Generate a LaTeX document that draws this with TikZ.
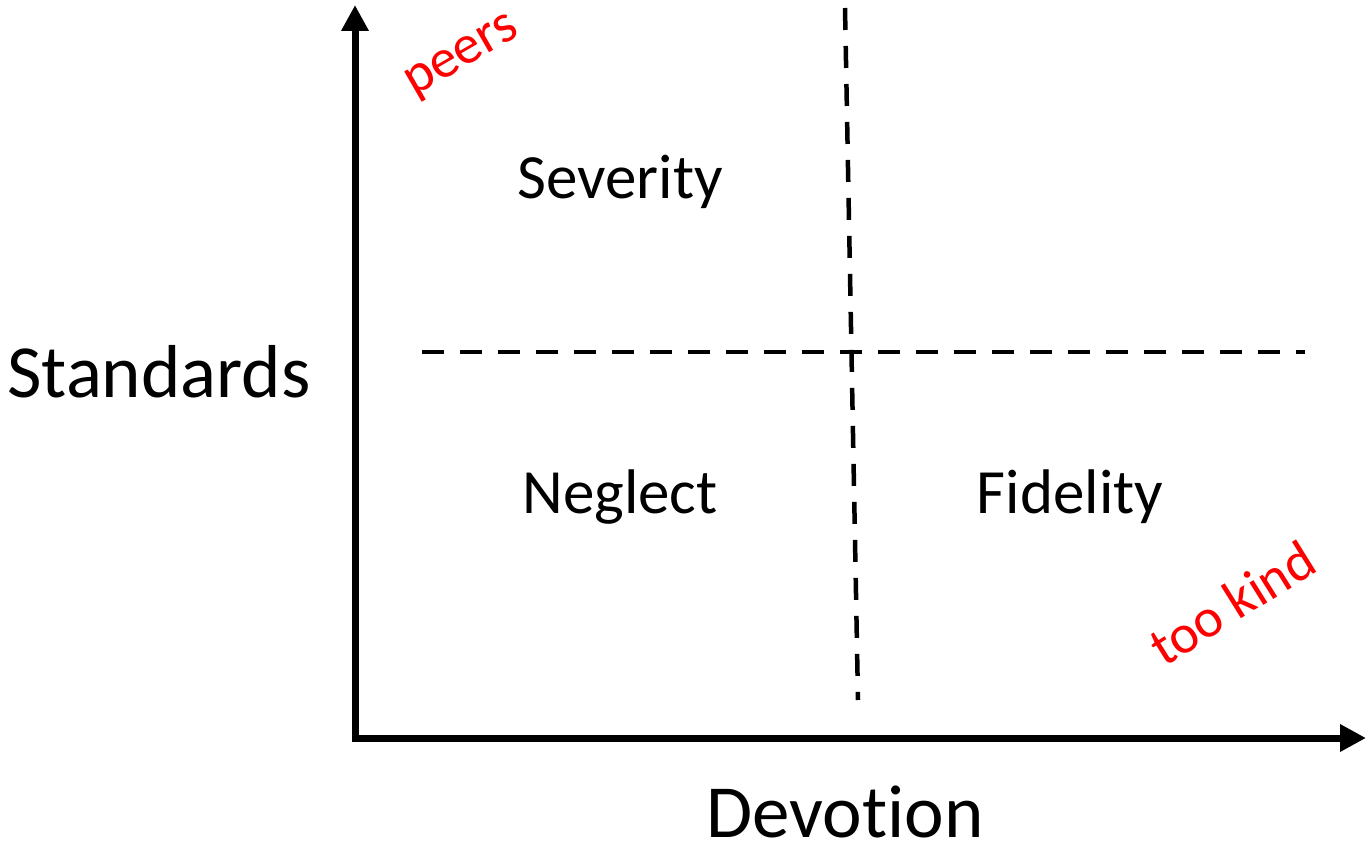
\documentclass[tikz,border=0pt]{standalone}
\usepackage{fontspec}
\setmainfont[Ligatures={NoCommon,NoRare,NoContextual}]{Carlito}
\usetikzlibrary{arrows.meta}
\begin{document}
\begin{tikzpicture}[x=1pt,y=-1pt,
  axis/.style={line width=7pt,-{Triangle[length=26pt,width=26pt]}},
  divider/.style={line width=4.5pt,dash pattern=on 22pt off 16pt},
  quad/.style={font=\fontsize{63}{70}\selectfont,inner sep=0pt},
  axlabel/.style={font=\fontsize{75}{80}\selectfont,inner sep=0pt},
  note/.style={text=red,font=\fontsize{55}{60}\selectfont,inner sep=0pt}]
\useasboundingbox (0,0) rectangle (1371,843);
\coordinate (o) at (355,738);
\coordinate (ytop) at (355,5);
\coordinate (xend) at (1366,738);
\coordinate (v1) at (845,8);
\coordinate (v2) at (858,700);
\coordinate (h1) at (422,352);
\coordinate (h2) at (1305,352);
\draw[divider] (v1) -- (v2);
\draw[divider] (h1) -- (h2);
\draw[axis] ([yshift=3.5pt]o) -- (ytop);
\draw[axis] ([xshift=-3.5pt]o) -- (xend);
\node[axlabel] (std) at (159,372) {Standards};
\node[axlabel] (dev) at (845,812) {Devotion};
\node[quad] (sev) at (620,182) {Severity};
\node[quad] (neg) at (620,497) {Neglect};
\node[quad] (fid) at (1070,497) {Fidelity};
\node[note,rotate=30] (peers) at (463,58) {peers};
\node[note,rotate=32] (kind) at (1232,603) {too kind};
\end{tikzpicture}
\end{document}
